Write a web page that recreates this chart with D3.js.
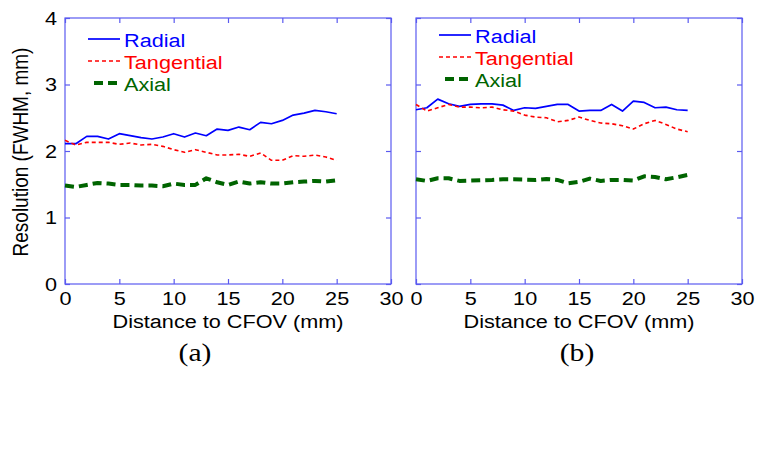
<!DOCTYPE html>
<html><head><meta charset="utf-8">
<script src="https://cdn.jsdelivr.net/npm/d3@7"></script>
<style>body{margin:0;background:#fff}svg{display:block}</style>
</head><body>
<svg id="c" width="762" height="457"></svg>
<script>
const distances = d3.range(0, 26);
const xTicks = [0, 5, 10, 15, 20, 25, 30];
const yTicks = [0, 1, 2, 3, 4];
const seriesNames = ["Radial", "Tangential", "Axial"];
const panelLabels = ["(a)", "(b)"];

const radialA = [2.11,2.11,2.22,2.22,2.18,2.26,2.23,2.20,2.18,2.21,2.26,2.21,2.27,2.23,2.33,2.31,2.36,2.32,2.43,2.41,2.46,2.54,2.57,2.61,2.59,2.56];
const tangentialA = [2.16,2.09,2.13,2.13,2.13,2.10,2.12,2.09,2.10,2.07,2.02,1.98,2.02,1.98,1.94,1.94,1.95,1.92,1.97,1.86,1.86,1.93,1.92,1.94,1.91,1.86];
const axialA = [1.48,1.46,1.49,1.52,1.51,1.49,1.49,1.48,1.48,1.47,1.51,1.49,1.49,1.59,1.53,1.49,1.54,1.51,1.53,1.51,1.51,1.53,1.54,1.55,1.54,1.56];

const radialB = [2.62,2.65,2.78,2.71,2.67,2.70,2.71,2.71,2.69,2.61,2.65,2.64,2.67,2.70,2.70,2.60,2.61,2.61,2.70,2.60,2.75,2.73,2.65,2.66,2.62,2.61];
const tangentialB = [2.70,2.60,2.65,2.70,2.66,2.66,2.65,2.66,2.62,2.60,2.54,2.51,2.50,2.44,2.46,2.51,2.46,2.42,2.41,2.38,2.33,2.41,2.46,2.40,2.33,2.29];
const axialB = [1.575,1.55,1.59,1.59,1.55,1.555,1.56,1.565,1.575,1.575,1.57,1.565,1.58,1.565,1.515,1.535,1.585,1.55,1.565,1.565,1.555,1.62,1.61,1.575,1.605,1.64];

const styles = [
  {color:"#0000ff", width:1.7, dash:null},
  {color:"#ff0000", width:1.6, dash:"4,3"},
  {color:"#006400", width:4, dash:"9,5"}
];

const svg = d3.select("#c");
const font = "Liberation Sans, Arial, sans-serif";
const serif = "Liberation Serif, Times New Roman, serif";
const frame = "#5a5af0";
const FS = 19, SX = 1.14;

function stext(parent, x, y, str, opts) {
  const g = parent.append("g").attr("transform", `translate(${x},${y}) scale(${opts.sx||SX},1)`);
  return g.append("text").attr("x",0).attr("y",0).text(str)
    .attr("font-family", opts.family || font).attr("font-size", opts.size || FS)
    .attr("fill", opts.fill || "#000").attr("text-anchor", opts.anchor || "start");
}

const panels = [
  {left:65, series:[radialA, tangentialA, axialA], label:panelLabels[0], labelX:195, legY:39, ylabel:true},
  {left:416, series:[radialB, tangentialB, axialB], label:panelLabels[1], labelX:577, legY:35, ylabel:false}
];
const plotTop = 18, plotBottom = 284, plotW = 326;

panels.forEach(p => {
  const x = d3.scaleLinear().domain([0,30]).range([p.left, p.left + plotW]);
  const y = d3.scaleLinear().domain([0,4]).range([plotBottom, plotTop]);
  const g = svg.append("g");

  g.append("rect").attr("x", p.left).attr("y", plotTop).attr("width", plotW).attr("height", plotBottom-plotTop)
    .attr("fill","none").attr("stroke",frame).attr("stroke-width",1.2);

  const ax = [
    d3.axisBottom(x).tickValues(xTicks).tickSize(-5).tickPadding(8).tickFormat(d3.format("d")),
    d3.axisTop(x).tickValues(xTicks).tickSize(-5).tickFormat(""),
    p.ylabel ? d3.axisLeft(y).tickValues(yTicks).tickSize(-5).tickPadding(7).tickFormat(d3.format("d"))
             : d3.axisLeft(y).tickValues(yTicks).tickSize(-5).tickFormat(""),
    d3.axisRight(y).tickValues(yTicks).tickSize(-5).tickFormat("")
  ];
  const trans = [`translate(0,${plotBottom})`,`translate(0,${plotTop})`,`translate(${p.left},0)`,`translate(${p.left+plotW},0)`];
  ax.forEach((a,i) => {
    const ag = g.append("g").attr("transform", trans[i]).call(a);
    ag.select(".domain").remove();
    ag.selectAll("line").attr("stroke", frame).attr("stroke-width",1.2);
    ag.selectAll("text").attr("font-family", font).attr("font-size", FS).attr("fill","#000")
      .attr("transform", `scale(${SX},1)`);
  });

  const line = d3.line().x((d,i)=>x(distances[i])).y(d=>y(d));
  p.series.forEach((s,k) => {
    const st = styles[k];
    g.append("path").datum(s).attr("d", line).attr("fill","none")
      .attr("stroke", st.color).attr("stroke-width", st.width)
      .attr("stroke-dasharray", st.dash).attr("stroke-linejoin","round");
  });

  seriesNames.forEach((n,k) => {
    const st = styles[k];
    const ly = p.legY + k*22;
    const x0 = p.left + (k===2 ? 29 : 23), x1 = p.left + 55;
    g.append("line").attr("x1",x0).attr("x2",x1).attr("y1",ly).attr("y2",ly)
      .attr("stroke",st.color).attr("stroke-width",st.width).attr("stroke-dasharray",st.dash);
    stext(g, p.left + 59, ly + 8, n, {fill: st.color});
  });

  stext(g, p.left + plotW/2, 328, "Distance to CFOV (mm)", {anchor:"middle"});
  stext(g, p.labelX, 361, p.label, {anchor:"middle", family:serif, size:26});

  if (p.ylabel) {
    g.append("text").attr("transform", `translate(28,${(plotTop+plotBottom)/2 + 1}) rotate(-90) scale(1,${SX})`)
      .attr("text-anchor","middle").attr("font-family", font).attr("font-size", FS)
      .text("Resolution (FWHM, mm)");
  }
});
</script>
</body></html>
